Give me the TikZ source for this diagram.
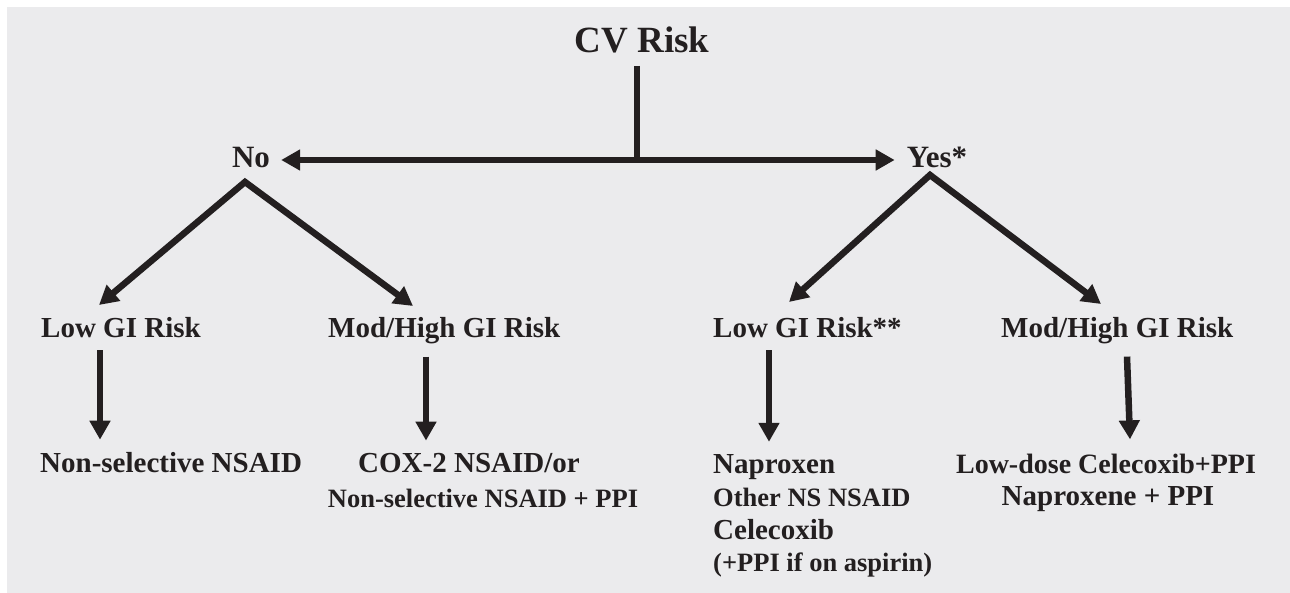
\documentclass[tikz,border=0pt]{standalone}
\usepackage{fontspec}
\setmainfont{Liberation Serif}
\usetikzlibrary{arrows.meta}
\definecolor{ink}{HTML}{231F20}
\definecolor{paper}{HTML}{EBEBED}

\begin{document}
\begin{tikzpicture}[x=1pt,y=-1pt,
    txt/.style={inner sep=0pt,text=ink,font=\bfseries\fontsize{29}{33}\selectfont},
    sm/.style={txt,font=\bfseries\fontsize{26.5}{30}\selectfont},
    ln/.style={draw=ink,line width=6.5pt},
    arr/.style={ln,-{Triangle[length=19pt,width=20pt]}},
    arrs/.style={ln,{Triangle[length=19pt,width=20pt]}-{Triangle[length=19pt,width=20pt]}}]
\useasboundingbox (0,0) rectangle (1290,593);
\fill[paper] (7,7) rectangle (1290,593);

\node[txt,anchor=base,font=\bfseries\fontsize{37}{40}\selectfont] (cv) at (642,53) {CV Risk};
\node[txt,anchor=base,font=\bfseries\fontsize{31}{34}\selectfont] (no) at (251,168) {No};
\node[txt,anchor=base,font=\bfseries\fontsize{31}{34}\selectfont] (yes) at (937,168) {Yes*};

\node[txt,anchor=base west] (lgl) at (41,338) {Low GI Risk};
\node[txt,anchor=base west] (mhl) at (328,338) {Mod/High GI Risk};
\node[txt,anchor=base west] (lgr) at (713,338) {Low GI Risk**};
\node[txt,anchor=base west] (mhr) at (1001,338) {Mod/High GI Risk};

\node[txt,anchor=base west] (nsl) at (40,472) {Non-selective NSAID};
\node[txt,anchor=base] (cox) at (469,472) {COX-2 NSAID/or};
\node[sm,anchor=base] (coxb) at (483,507) {Non-selective NSAID + PPI};
\node[txt,anchor=base west] (nap) at (713,473) {Naproxen};
\node[sm,anchor=base west] (napb) at (713,506) {Other NS NSAID};
\node[txt,anchor=base west] (napc) at (713,539) {Celecoxib};
\node[sm,anchor=base west] (napd) at (713,571) {(+PPI if on aspirin)};
\node[txt,anchor=base,font=\bfseries\fontsize{28}{32}\selectfont] (ldc) at (1106,473) {Low-dose Celecoxib+PPI};
\node[txt,anchor=base] (ldcb) at (1108,505) {Naproxene + PPI};

\coordinate (junc) at (637,160);
\coordinate (noapex) at (245,182);
\coordinate (yesapex) at (930,175);
\coordinate (tipa) at (99,305);
\coordinate (tipb) at (413,306);
\coordinate (tipc) at (789,302);
\coordinate (tipd) at (1101,304);

\draw[ln] ([yshift=-12pt]cv.south -| junc) -- (junc);
\draw[arrs] ([xshift=11pt]no.east |- junc) -- ([xshift=-12pt]yes.west |- junc);
\draw[arrs] (tipa) -- (noapex) -- (tipb);
\draw[arrs] (tipc) -- (yesapex) -- (tipd);

\draw[arr] ([xshift=59pt,yshift=-12pt]lgl.south west) -- ([xshift=60pt,yshift=12pt]nsl.north west);
\draw[arr] ([xshift=98pt,yshift=-12pt]mhl.south west) -- ([xshift=-43pt,yshift=12pt]cox.north);
\draw[arr] ([xshift=56pt,yshift=-12pt]lgr.south west) -- ([xshift=56pt,yshift=12pt]nap.north west);
\draw[arr] ([xshift=126pt,yshift=-12pt]mhr.south west) -- ([xshift=24pt,yshift=14pt]ldc.north);
\end{tikzpicture}
\end{document}
